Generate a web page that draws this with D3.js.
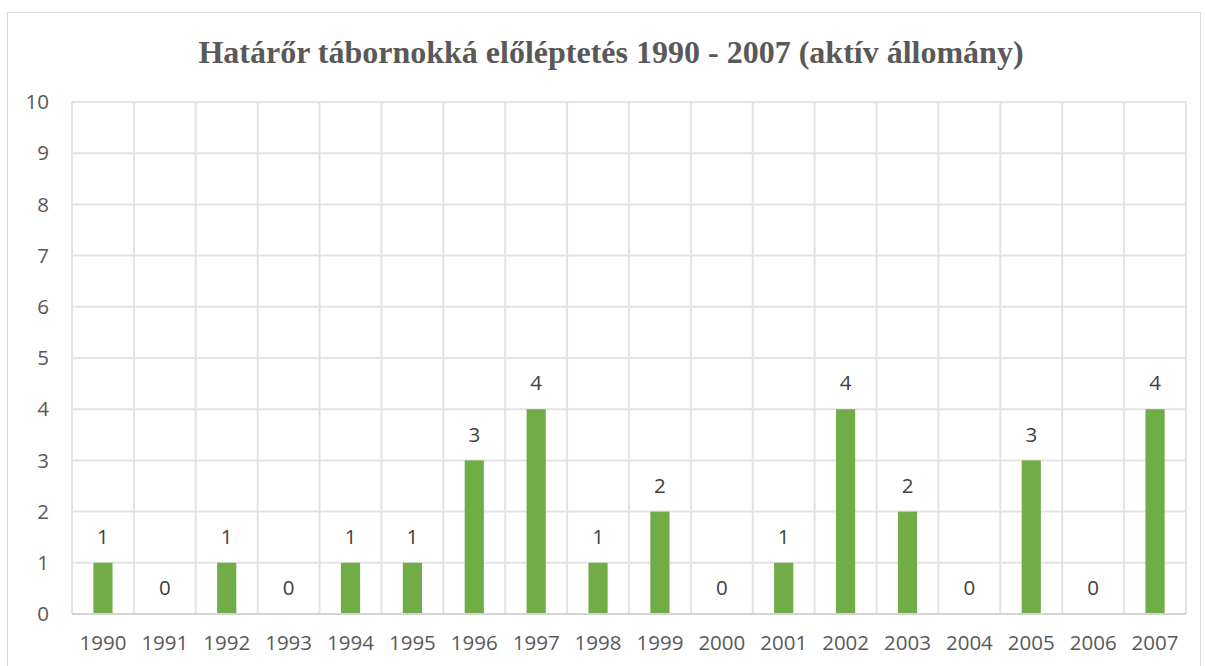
<!DOCTYPE html>
<html><head><meta charset="utf-8">
<script src="https://cdn.jsdelivr.net/npm/d3@7"></script>
<style>body{margin:0;background:#fff}</style>
</head><body>
<svg id="c" width="1206" height="666"></svg>
<script>
const years = ["1990","1991","1992","1993","1994","1995","1996","1997","1998","1999","2000","2001","2002","2003","2004","2005","2006","2007"];
const values = [1,0,1,0,1,1,3,4,1,2,0,1,4,2,0,3,0,4];
const yTicks = [0,1,2,3,4,5,6,7,8,9,10];
const title = "Határőr tábornokká előléptetés 1990 - 2007 (aktív állomány)";

const svg = d3.select("#c");
const m = {l:72, r:1186, t:102, b:614};
svg.append("rect").attr("x",7.5).attr("y",12.5).attr("width",1193).attr("height",670)
  .attr("fill","#fff").attr("stroke","#d9d9d9").attr("stroke-width",1);

const x = d3.scaleBand().domain(years).range([m.l, m.r]).paddingInner(0.69).paddingOuter(0.345);
const xb = d3.scaleBand().domain(years).range([m.l, m.r]);
const y = d3.scaleLinear().domain([0,10]).range([m.b, m.t]);

// horizontal grid
svg.append("g").selectAll("line").data(yTicks.filter(d=>d>0)).join("line")
  .attr("x1",m.l).attr("x2",m.r).attr("y1",d=>y(d)).attr("y2",d=>y(d))
  .attr("stroke","#e3e3e3").attr("stroke-width",2);
// vertical grid
const bounds = years.map(d=>xb(d)).concat([m.r]);
svg.append("g").selectAll("line").data(bounds).join("line")
  .attr("x1",d=>d).attr("x2",d=>d).attr("y1",m.t).attr("y2",m.b)
  .attr("stroke","#e3e3e3").attr("stroke-width",2);

// bars
svg.append("g").selectAll("rect").data(years).join("rect")
  .attr("x",(d)=>x(d)).attr("width",x.bandwidth())
  .attr("y",(d,i)=>y(values[i])).attr("height",(d,i)=>y(0)-y(values[i]))
  .attr("fill","#70ad47");

// baseline
svg.append("line").attr("x1",m.l).attr("x2",m.r).attr("y1",m.b).attr("y2",m.b)
  .attr("stroke","#d4d4d4").attr("stroke-width",2);

const font = "'Open Sans', sans-serif";
const fs = 20.5;
// y labels
svg.append("g").selectAll("text").data(yTicks).join("text")
  .attr("x",49).attr("y",d=>y(d)).attr("dy","0.35em").attr("text-anchor","end")
  .attr("font-family",font).attr("font-size",fs).attr("fill","#595959").text(d=>d);
// x labels
svg.append("g").selectAll("text").data(years).join("text")
  .attr("x",d=>xb(d)+xb.bandwidth()/2).attr("y",643).attr("dy","0.35em").attr("text-anchor","middle")
  .attr("font-family",font).attr("font-size",fs).attr("fill","#595959").text(d=>d);
// data labels
svg.append("g").selectAll("text").data(years).join("text")
  .attr("x",d=>xb(d)+xb.bandwidth()/2).attr("y",(d,i)=>y(values[i])-26).attr("dy","0.35em").attr("text-anchor","middle")
  .attr("font-family",font).attr("font-size",fs).attr("fill","#404040").text((d,i)=>values[i]);
// title
svg.append("text").attr("x",611).attr("y",63).attr("text-anchor","middle")
  .attr("font-family","'Liberation Serif', 'Times New Roman', serif").attr("font-weight","bold")
  .attr("font-size",32).attr("fill","#595959").text(title);
</script>
</body></html>
